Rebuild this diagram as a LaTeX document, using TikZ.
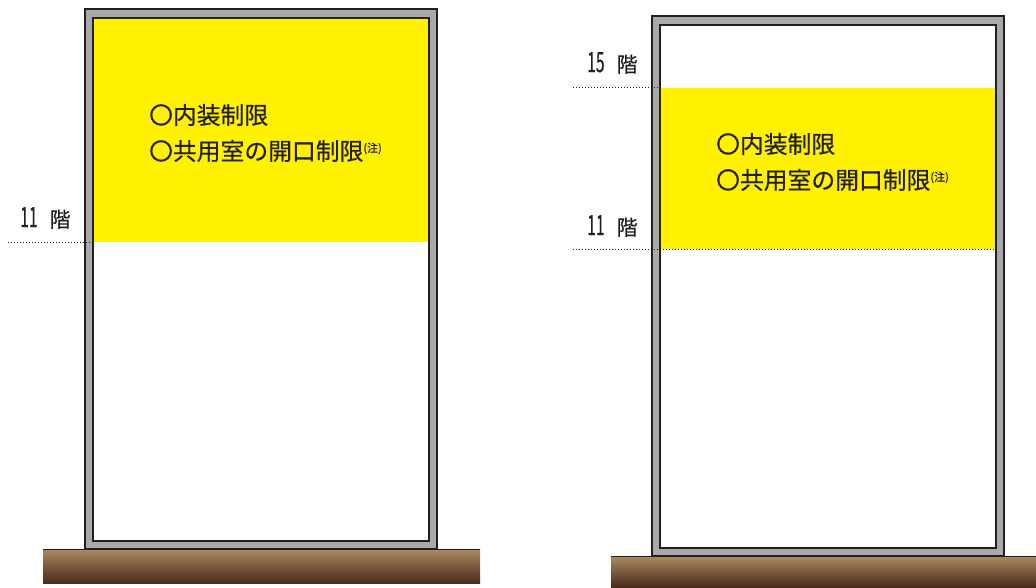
\documentclass[tikz,border=0pt]{standalone}
\usepackage{fontspec}
\setmainfont{Noto Sans CJK JP}
\newfontfamily\rulefont[FakeBold=0.5]{Noto Sans CJK JP}
\newfontfamily\labfont[FakeBold=0.3]{Noto Sans CJK JP}
\usetikzlibrary{shadings}
\definecolor{wallgray}{HTML}{A7A9AC}
\definecolor{ink}{HTML}{231F20}
\definecolor{zone}{HTML}{FFF100}
\definecolor{groundtop}{HTML}{AB8A62}
\definecolor{groundmid}{HTML}{7D5C3E}
\definecolor{groundbot}{HTML}{4A2B1B}
\newcommand{\floorlab}[1]{\labfont\scalebox{0.56}[1]{\fontsize{28}{28}\selectfont #1}\hspace{12pt}{\fontsize{21}{21}\selectfont 階}}
\newcommand{\notemark}{\raisebox{8pt}{\fontsize{11}{11}\selectfont (注)}}
\tikzset{
  wallouter/.style={fill=wallgray, draw=ink, line width=1.3pt},
  wallinner/.style={fill=white, draw=ink, line width=1.3pt},
  zonefill/.style={fill=zone, draw=none},
  groundbox/.style={top color=groundtop, middle color=groundmid, bottom color=groundbot, draw=none},
  groundline/.style={draw=ink, line width=0.9pt},
  levelline/.style={draw=ink, dotted, line width=1pt},
  label/.style={anchor=west, inner sep=0pt, text=ink},
  rule/.style={anchor=west, inner sep=0pt, text=ink, font=\rulefont\fontsize{23.8}{23.8}\selectfont},
}
\begin{document}
\begin{tikzpicture}[x=1pt,y=-1pt]
\useasboundingbox (0,0) rectangle (1036,587);
% ---------- left building ----------
\fill[groundbox] (43,549) rectangle (480,583);
\draw[groundline] (43,549) -- (480,549);
\draw[wallouter] (85,9) rectangle (437,549);
\draw[wallinner] (93,18) rectangle (429,541);
\fill[zonefill] (93.7,18.7) rectangle (428.3,241.5);
\coordinate (L11a) at (8,242);
\coordinate (L11b) at (93,242);
\draw[levelline] (L11a) -- (L11b);
\node[label] (L11) at (20,218) {\floorlab{11}};
\node[rule] (Lr1) at (149,115) {〇内装制限};
\node[rule] (Lr2) at (149,151) {〇共用室の開口制限\notemark};
% ---------- right building ----------
\fill[groundbox] (611,556) rectangle (1036,587);
\draw[groundline] (611,556) -- (1036,556);
\draw[wallouter] (652,16) rectangle (1004,556);
\draw[wallinner] (660,25) rectangle (996,548);
\fill[zonefill] (660.7,88) rectangle (995.3,248.5);
\coordinate (R15a) at (573,87);
\coordinate (R15b) at (660,87);
\draw[levelline] (R15a) -- (R15b);
\coordinate (R11a) at (573,249);
\coordinate (R11b) at (995,249);
\draw[levelline] (R11a) -- (R11b);
\node[label] (R15) at (587,63) {\floorlab{15}};
\node[label] (R11) at (587,226) {\floorlab{11}};
\node[rule] (Rr1) at (716,144) {〇内装制限};
\node[rule] (Rr2) at (716,180) {〇共用室の開口制限\notemark};
\end{tikzpicture}
\end{document}
